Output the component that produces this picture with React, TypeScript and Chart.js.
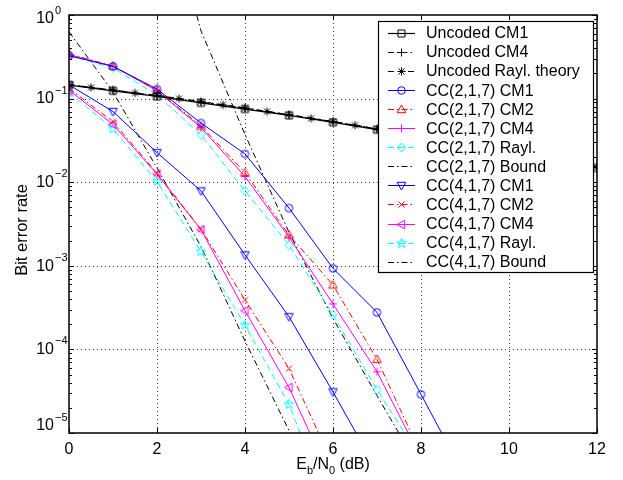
import React, { useEffect, useRef } from 'react';
import { Chart, registerables } from 'chart.js';

Chart.register(...registerables);

// ---------- data ----------
const xInt = [0, 1, 2, 3, 4, 5, 6, 7, 8, 9, 10, 11, 12];
const xHalf = [0, 0.5, 1, 1.5, 2, 2.5, 3, 3.5, 4, 4.5, 5, 5.5, 6, 6.5, 7, 7.5, 8, 8.5, 9, 9.5, 10, 10.5, 11, 11.5, 12];

const uncodedCM1 = [0.145, 0.124, 0.106, 0.089, 0.075, 0.063, 0.052, 0.0425, 0.035, 0.028, 0.0228, 0.0185, 0.0148];
const uncodedCM4 = [0.147, 0.126, 0.108, 0.091, 0.077, 0.064, 0.053, 0.0433, 0.0355, 0.0288, 0.0233, 0.0188, 0.0151];
const uncodedRaylTheory = [0.146, 0.136, 0.127, 0.117, 0.109, 0.1, 0.092, 0.084, 0.077, 0.07, 0.064, 0.058, 0.053, 0.048, 0.0435, 0.039, 0.0355, 0.032, 0.0288, 0.0259, 0.0233, 0.0209, 0.0188, 0.0168, 0.0151];

const cc2CM1 = [0.326, 0.243, 0.13, 0.051, 0.0218, 0.0049, 0.00093, 0.000277, 0.000029, 0.000003];
const cc2CM2 = [0.344, 0.245, 0.126, 0.047, 0.013, 0.00234, 0.00059, 0.000076, 0.0000056];
const cc2CM4 = [0.335, 0.244, 0.124, 0.045, 0.0117, 0.0022, 0.00035, 0.000054, 0.000005];
const cc2Rayl = [0.33, 0.232, 0.111, 0.0368, 0.00787, 0.00177, 0.00026, 0.000033, 0.000005];
const cc2BoundX = [2, 3, 4, 5, 6, 7, 8];
const cc2Bound = [51, 0.646, 0.0372, 0.00251, 0.000234, 0.000028, 0.0000035];

const cc4CM1 = [0.146, 0.07, 0.0226, 0.00787, 0.00135, 0.000246, 0.000031, 0.0000036];
const cc4CM2 = [0.132, 0.053, 0.0128, 0.00274, 0.00039, 0.000059, 0.0000042];
const cc4CM4 = [0.126, 0.049, 0.0125, 0.0027, 0.00029, 0.000035, 0.0000025];
const cc4Rayl = [0.118, 0.0435, 0.0102, 0.00148, 0.000195, 0.000022, 0.000001];
const cc4Bound = [0.63, 0.12, 0.0148, 0.0017, 0.000126, 0.0000107, 0.000001];

const xTicks = [0, 2, 4, 6, 8, 10, 12];
const yExponents = [0, -1, -2, -3, -4, -5];

const FONT = "'Liberation Sans', Arial, Helvetica, sans-serif";

// ---------- markers ----------
function makeMarker(kind: string, color: string): HTMLCanvasElement {
  const s = 15;
  const c = document.createElement('canvas');
  c.width = s;
  c.height = s;
  const g = c.getContext('2d')!;
  g.strokeStyle = color;
  g.lineWidth = 1;
  const m = s / 2;
  g.beginPath();
  switch (kind) {
    case 'square':
      g.rect(m - 3.5, m - 3.5, 7, 7);
      break;
    case 'circle':
      g.arc(m, m, 3.8, 0, Math.PI * 2);
      break;
    case 'plus':
      g.moveTo(m - 4, m); g.lineTo(m + 4, m);
      g.moveTo(m, m - 4); g.lineTo(m, m + 4);
      break;
    case 'asterisk':
      g.moveTo(m - 4, m); g.lineTo(m + 4, m);
      g.moveTo(m, m - 4); g.lineTo(m, m + 4);
      g.moveTo(m - 3, m - 3); g.lineTo(m + 3, m + 3);
      g.moveTo(m - 3, m + 3); g.lineTo(m + 3, m - 3);
      break;
    case 'x':
      g.moveTo(m - 3, m - 3); g.lineTo(m + 3, m + 3);
      g.moveTo(m - 3, m + 3); g.lineTo(m + 3, m - 3);
      break;
    case 'diamond':
      g.moveTo(m, m - 4.5); g.lineTo(m + 4, m); g.lineTo(m, m + 4.5); g.lineTo(m - 4, m); g.closePath();
      break;
    case 'triUp':
      g.moveTo(m, m - 4.5); g.lineTo(m + 4.3, m + 3.2); g.lineTo(m - 4.3, m + 3.2); g.closePath();
      break;
    case 'triDown':
      g.moveTo(m, m + 4.5); g.lineTo(m + 4.3, m - 3.2); g.lineTo(m - 4.3, m - 3.2); g.closePath();
      break;
    case 'triLeft':
      g.moveTo(m - 4.5, m); g.lineTo(m + 3.2, m - 4.3); g.lineTo(m + 3.2, m + 4.3); g.closePath();
      break;
    case 'pentagram': {
      for (let i = 0; i < 10; i++) {
        const r = i % 2 === 0 ? 5 : 2.1;
        const a = -Math.PI / 2 + (i * Math.PI) / 5;
        const px = m + r * Math.cos(a);
        const py = m + r * Math.sin(a);
        if (i === 0) g.moveTo(px, py); else g.lineTo(px, py);
      }
      g.closePath();
      break;
    }
  }
  g.stroke();
  return c;
}

const SOLID: number[] = [];
const DASH = [6, 4];
const DASHDOT = [6, 3, 1.5, 3];

function pts(xs: number[], ys: number[]) {
  return ys.map((y, i) => ({ x: xs[i], y }));
}

interface Series {
  label: string;
  xs: number[];
  ys: number[];
  color: string;
  dash: number[];
  marker: string | null;
  width: number;
}

const seriesList: Series[] = [
  { label: 'Uncoded CM1', xs: xInt, ys: uncodedCM1, color: '#000000', dash: SOLID, marker: 'square', width: 1.2 },
  { label: 'Uncoded CM4', xs: xInt, ys: uncodedCM4, color: '#000000', dash: DASHDOT, marker: 'plus', width: 1.2 },
  { label: 'Uncoded Rayl. theory', xs: xHalf, ys: uncodedRaylTheory, color: '#000000', dash: DASH, marker: 'asterisk', width: 1.2 },
  { label: 'CC(2,1,7) CM1', xs: xInt, ys: cc2CM1, color: '#0000ff', dash: SOLID, marker: 'circle', width: 1 },
  { label: 'CC(2,1,7) CM2', xs: xInt, ys: cc2CM2, color: '#ff0000', dash: DASHDOT, marker: 'triUp', width: 1 },
  { label: 'CC(2,1,7) CM4', xs: xInt, ys: cc2CM4, color: '#ff00ff', dash: SOLID, marker: 'plus', width: 1 },
  { label: 'CC(2,1,7) Rayl.', xs: xInt, ys: cc2Rayl, color: '#00ffff', dash: DASH, marker: 'diamond', width: 1 },
  { label: 'CC(2,1,7) Bound', xs: cc2BoundX, ys: cc2Bound, color: '#000000', dash: DASHDOT, marker: null, width: 1 },
  { label: 'CC(4,1,7) CM1', xs: xInt, ys: cc4CM1, color: '#0000ff', dash: SOLID, marker: 'triDown', width: 1 },
  { label: 'CC(4,1,7) CM2', xs: xInt, ys: cc4CM2, color: '#ff0000', dash: DASHDOT, marker: 'x', width: 1 },
  { label: 'CC(4,1,7) CM4', xs: xInt, ys: cc4CM4, color: '#ff00ff', dash: SOLID, marker: 'triLeft', width: 1 },
  { label: 'CC(4,1,7) Rayl.', xs: xInt, ys: cc4Rayl, color: '#00ffff', dash: DASH, marker: 'pentagram', width: 1 },
  { label: 'CC(4,1,7) Bound', xs: xInt, ys: cc4Bound, color: '#000000', dash: DASHDOT, marker: null, width: 1 },
];

export default function App() {
  const ref = useRef<HTMLCanvasElement>(null);

  useEffect(() => {
    const markers = seriesList.map((s) => (s.marker ? makeMarker(s.marker, s.color) : null));

    const datasets = seriesList.map((s, i) => ({
      label: s.label,
      data: pts(s.xs, s.ys),
      borderColor: s.color,
      backgroundColor: 'rgba(0,0,0,0)',
      borderWidth: s.width,
      borderDash: s.dash,
      pointStyle: (markers[i] || 'circle') as any,
      pointRadius: markers[i] ? 4 : 0,
      pointHoverRadius: markers[i] ? 4 : 0,
      tension: 0,
      fill: false,
    }));

    const axesPlugin = {
      id: 'matlabAxes',
      beforeDatasetsDraw(chart: any) {
        const { ctx, chartArea: a, scales } = chart;
        const xs = scales.x, ys = scales.y;
        ctx.save();
        ctx.fillStyle = '#ffffff';
        ctx.fillRect(a.left, a.top, a.right - a.left, a.bottom - a.top);
        ctx.strokeStyle = '#333333';
        ctx.lineWidth = 1;
        ctx.setLineDash([1, 3]);
        for (const v of xTicks) {
          if (v === 0 || v === 12) continue;
          const px = Math.round(xs.getPixelForValue(v)) + 0.5;
          ctx.beginPath();
          ctx.moveTo(px, a.top);
          ctx.lineTo(px, a.bottom);
          ctx.stroke();
        }
        for (const e of yExponents) {
          if (e === 0 || e === -5) continue;
          const py = Math.round(ys.getPixelForValue(Math.pow(10, e))) + 0.5;
          ctx.beginPath();
          ctx.moveTo(a.left, py);
          ctx.lineTo(a.right, py);
          ctx.stroke();
        }
        ctx.restore();
      },
      afterDatasetsDraw(chart: any) {
        const { ctx, chartArea: a, scales } = chart;
        const xs = scales.x, ys = scales.y;
        ctx.save();
        ctx.setLineDash([]);
        ctx.strokeStyle = '#000000';
        ctx.lineWidth = 1;
        // ticks
        ctx.beginPath();
        for (const v of xTicks) {
          const px = Math.round(xs.getPixelForValue(v)) + 0.5;
          ctx.moveTo(px, a.bottom); ctx.lineTo(px, a.bottom - 5);
          ctx.moveTo(px, a.top); ctx.lineTo(px, a.top + 5);
        }
        for (const e of yExponents) {
          const py = Math.round(ys.getPixelForValue(Math.pow(10, e))) + 0.5;
          ctx.moveTo(a.left, py); ctx.lineTo(a.left + 5, py);
          ctx.moveTo(a.right, py); ctx.lineTo(a.right - 5, py);
          if (e > -5) {
            for (let k = 2; k <= 9; k++) {
              const pm = Math.round(ys.getPixelForValue(k * Math.pow(10, e - 1))) + 0.5;
              ctx.moveTo(a.left, pm); ctx.lineTo(a.left + 3, pm);
              ctx.moveTo(a.right, pm); ctx.lineTo(a.right - 3, pm);
            }
          }
        }
        ctx.stroke();
        // border
        ctx.lineWidth = 1.5;
        ctx.strokeRect(a.left, a.top, a.right - a.left, a.bottom - a.top);

        // x tick labels
        ctx.fillStyle = '#000000';
        ctx.font = `16px ${FONT}`;
        ctx.textAlign = 'center';
        ctx.textBaseline = 'alphabetic';
        for (const v of xTicks) {
          ctx.fillText(String(v), xs.getPixelForValue(v), 454);
        }
        // y tick labels 10^e
        for (const e of yExponents) {
          const gy = ys.getPixelForValue(Math.pow(10, e));
          let off = -1;
          if (e === 0) off = 2.5;
          if (e === -5) off = -8.5;
          const base = gy + off + 5.7;
          ctx.font = `16px ${FONT}`;
          ctx.textAlign = 'right';
          ctx.fillText('10', 54, base);
          ctx.font = `11px ${FONT}`;
          ctx.textAlign = 'left';
          ctx.fillText(e === 0 ? '0' : '\u2212' + String(-e), 55, base - 9.7);
        }
        // x title E_b/N_0 (dB)
        const parts: [string, number, number][] = [
          ['E', 16, 0], ['b', 11, 5], ['/N', 16, 0], ['0', 11, 5], [' (dB)', 16, 0],
        ];
        let total = 0;
        for (const [t, sz] of parts) {
          ctx.font = `${sz}px ${FONT}`;
          total += ctx.measureText(t).width;
        }
        let cx = (a.left + a.right) / 2 - total / 2;
        ctx.textAlign = 'left';
        for (const [t, sz, dy] of parts) {
          ctx.font = `${sz}px ${FONT}`;
          ctx.fillText(t, cx, 469 + dy);
          cx += ctx.measureText(t).width;
        }
        // y title
        ctx.save();
        ctx.translate(22, 230);
        ctx.rotate(-Math.PI / 2);
        ctx.font = `16.5px ${FONT}`;
        ctx.textAlign = 'center';
        ctx.textBaseline = 'middle';
        ctx.fillText('Bit error rate', 0, 0);
        ctx.restore();

        // legend
        const L = 378.5, T = 21.5, R = 593.5, B = 272.5;
        ctx.fillStyle = '#ffffff';
        ctx.fillRect(L, T, R - L, B - T);
        ctx.strokeStyle = '#000000';
        ctx.lineWidth = 1.2;
        ctx.strokeRect(L, T, R - L, B - T);
        seriesList.forEach((s, i) => {
          const cy = 32.5 + i * 19.1;
          const ly = Math.round(cy) + 0.5;
          ctx.strokeStyle = s.color;
          ctx.lineWidth = s.width;
          ctx.setLineDash(s.dash);
          ctx.beginPath();
          ctx.moveTo(388, ly);
          ctx.lineTo(415, ly);
          ctx.stroke();
          ctx.setLineDash([]);
          const mk = markers[i];
          if (mk) ctx.drawImage(mk, 401.5 - mk.width / 2, ly - mk.height / 2);
          ctx.fillStyle = '#000000';
          ctx.font = `16px ${FONT}`;
          ctx.textAlign = 'left';
          ctx.textBaseline = 'alphabetic';
          ctx.fillText(s.label, 426, cy + 5.7);
        });
        ctx.restore();
      },
    };

    const chart = new Chart(ref.current!, {
      type: 'line',
      data: { datasets: datasets as any },
      options: {
        animation: false,
        responsive: false,
        devicePixelRatio: 1,
        layout: { padding: { left: 69, right: 26, top: 15, bottom: 47 } },
        plugins: { legend: { display: false }, tooltip: { enabled: false } },
        events: [],
        scales: {
          x: { type: 'linear', min: 0, max: 12, display: false },
          y: { type: 'logarithmic', min: 1e-5, max: 1, display: false },
        },
      },
      plugins: [axesPlugin],
    } as any);
    return () => chart.destroy();
  }, []);

  return (
    <div style={{ position: 'absolute', left: 0, top: 0, width: 623, height: 480, background: '#ffffff' }}>
      <canvas ref={ref} width={623} height={480} style={{ display: 'block', width: 623, height: 480 }} />
    </div>
  );
}
